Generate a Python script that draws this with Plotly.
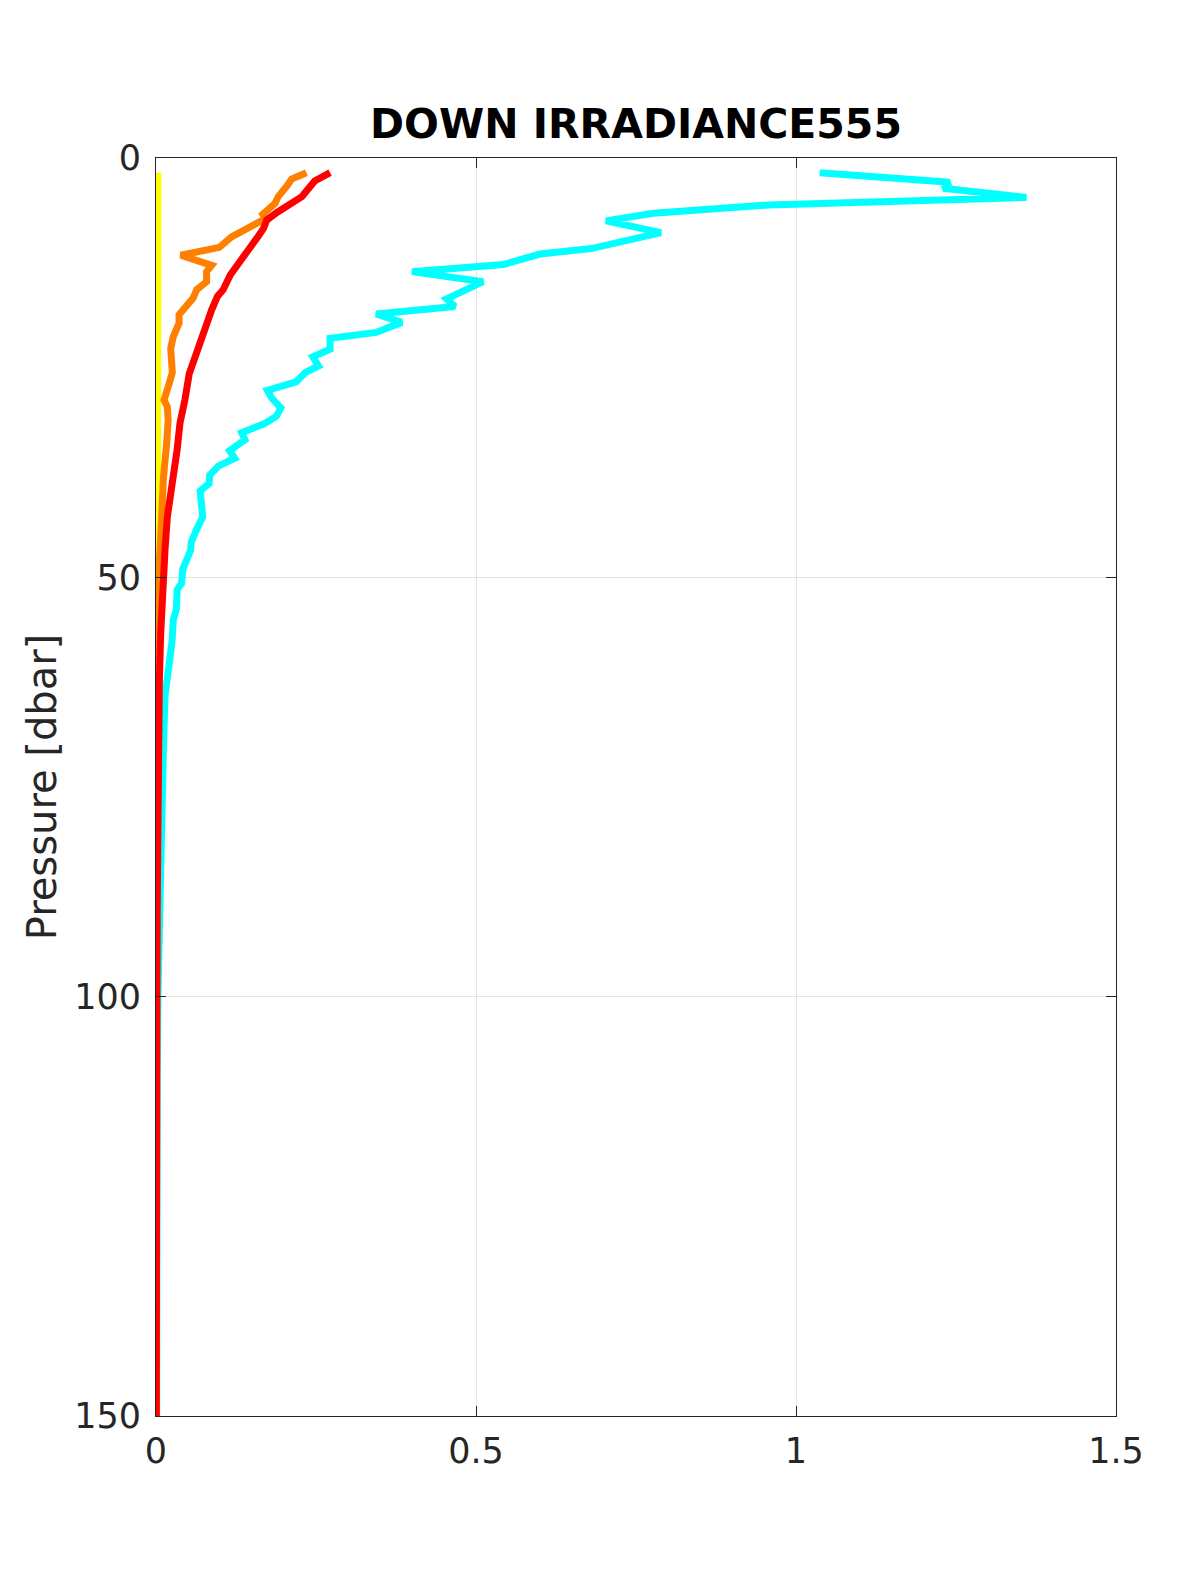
import plotly.graph_objects as go

# ---- data (irradiance at 555 nm vs pressure) ----
cyan_p = [1.75, 2.9, 3.6, 4.7, 5.6, 6.6, 7.5, 8.9, 10.8, 11.45, 12.7, 13.55, 14.75, 15.66, 16.8, 17.7,
          18.6, 19.6, 20.8, 21.5, 22.8, 23.7, 24.8, 25.6, 26.7, 27.7, 28.65, 29.8, 30.8, 31.7, 32.75,
          33.6, 34.9, 35.8, 36.7, 37.8, 38.8, 39.7, 41.2, 42.8, 44.2, 45.8, 46.8, 49.0, 50.7, 51.5,
          53.7, 55.1, 57.7, 60.6, 64.2, 70.6, 80, 90, 100, 110, 120, 130, 140, 150]
cyan_v = [1.037, 1.24, 1.23, 1.36, 0.958, 0.777, 0.703, 0.789, 0.68, 0.6, 0.543, 0.40, 0.511, 0.483,
          0.454, 0.467, 0.344, 0.384, 0.344, 0.272, 0.272, 0.245, 0.254, 0.233, 0.219, 0.174, 0.181,
          0.195, 0.188, 0.169, 0.134, 0.139, 0.115, 0.123, 0.098, 0.084, 0.083, 0.069, 0.07, 0.073,
          0.064, 0.055, 0.054, 0.042, 0.040, 0.033, 0.032, 0.027, 0.025, 0.019, 0.014, 0.0115,
          0.008, 0.005, 0.003, 0.002, 0.0015, 0.0012, 0.001, 0.001]

red_p = [1.75, 2.74, 4.6, 5.5, 6.5, 7.4, 8.4, 9.3, 10.6, 12.2, 13.2, 13.95, 15.7, 16.5, 18.1, 20.9,
         23.7, 25.7, 28.9, 31.6, 34.8, 38.8, 42.8, 46.7, 50.7, 56.7, 62.6, 70.6, 80, 90, 100, 110,
         120, 130, 140, 150]
red_v = [0.272, 0.248, 0.228, 0.207, 0.189, 0.173, 0.168, 0.16, 0.147, 0.134, 0.123, 0.116, 0.105,
         0.096, 0.087, 0.074, 0.061, 0.052, 0.045, 0.0375, 0.033, 0.0245, 0.0177, 0.0141, 0.0105,
         0.0073, 0.0052, 0.0036, 0.0025, 0.0018, 0.0013, 0.001, 0.0008, 0.0006, 0.0005, 0.0004]

orange_p = [1.75, 2.5, 3.4, 4.6, 5.4, 6.7, 7.2, 8.2, 9.4, 10.65, 11.6, 12.8, 13.55, 14.75, 15.7, 16.7,
            17.7, 18.7, 19.7, 21.3, 22.7, 23.9, 25.6, 27.3, 28.85, 29.65, 31.2, 34.0, 38.2, 42.8,
            50.7, 62.6, 70, 100, 150]
orange_v = [0.235, 0.212, 0.204, 0.191, 0.186, 0.167, 0.172, 0.147, 0.118, 0.099, 0.0386, 0.087,
            0.079, 0.079, 0.0636, 0.058, 0.048, 0.036, 0.036, 0.027, 0.023, 0.0245, 0.0255, 0.019,
            0.0125, 0.0177, 0.019, 0.0167, 0.0115, 0.0089, 0.0036, 0.0015, 0.0012, 0.0009, 0.0006]

yellow_p = [1.75, 10, 20, 30, 40, 60, 100, 150]
yellow_v = [0.003, 0.0028, 0.0025, 0.0022, 0.0018, 0.0012, 0.0006, 0.0003]

x_ticks = [0, 0.5, 1, 1.5]
x_tick_text = ["0", "0.5", "1", "1.5"]
y_ticks = [0, 50, 100, 150]
y_tick_text = ["0", "50", "100", "150"]

series = [
    ("yellow", yellow_v, yellow_p, "#FFFF00"),
    ("cyan", cyan_v, cyan_p, "#00FFFF"),
    ("orange", orange_v, orange_p, "#FF8000"),
    ("red", red_v, red_p, "#FF0000"),
]

fig = go.Figure()
for name, v, p, col in series:
    fig.add_trace(go.Scatter(x=v, y=p, mode="lines", name=name,
                             line=dict(color=col, width=7), showlegend=False))

axis_common = dict(
    showline=True, linecolor="#262626", linewidth=1, mirror="ticks",
    ticks="inside", ticklen=10, tickcolor="#262626", tickwidth=1,
    showgrid=True, gridcolor="#e3e3e3", gridwidth=1, zeroline=False,
    tickfont=dict(family="DejaVu Sans", size=35, color="#262626"),
)

fig.update_layout(
    width=1192, height=1567,
    paper_bgcolor="white", plot_bgcolor="white",
    margin=dict(l=148, r=84, t=150, b=159, autoexpand=False),
    title=dict(text="<b>DOWN IRRADIANCE555</b>", x=0.5, xref="paper",
               y=1 - 116 / 1567, yref="container", xanchor="center", yanchor="middle",
               font=dict(family="DejaVu Sans", size=41, color="black")),
    xaxis=dict(range=[0, 1.5], tickvals=x_ticks, ticktext=x_tick_text,
               ticklabelstandoff=4, **axis_common),
    yaxis=dict(range=[150, 0], tickvals=y_ticks, ticktext=y_tick_text,
               ticklabelstandoff=7,
               title=dict(text="Pressure [dbar]", standoff=5,
                          font=dict(family="DejaVu Sans", size=40, color="#262626")),
               **axis_common),
)

fig.write_html("out.html")
